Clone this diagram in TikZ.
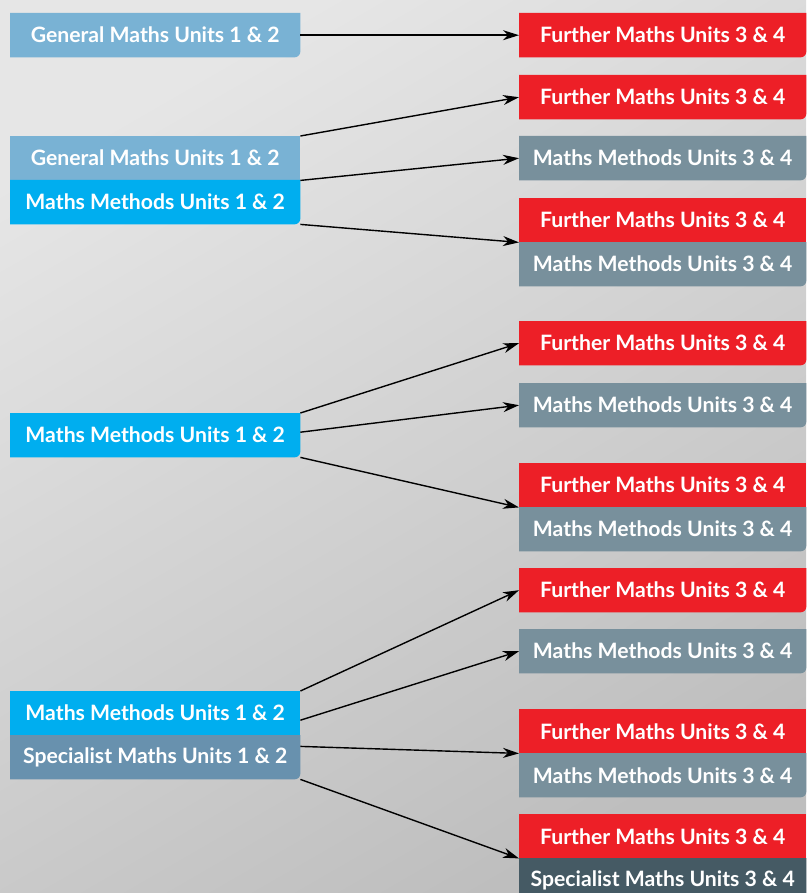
\documentclass[tikz,border=0pt]{standalone}
\usepackage{fontspec}
\setmainfont{Lato}
\usetikzlibrary{arrows.meta,backgrounds}
\definecolor{gmc}{HTML}{79B2D4}
\definecolor{mmc}{HTML}{00AEEF}
\definecolor{smc}{HTML}{6891AE}
\definecolor{frc}{HTML}{ED1F27}
\definecolor{mrc}{HTML}{78909C}
\definecolor{src}{HTML}{455A64}
\definecolor{bgtop}{HTML}{E6E6E6}
\definecolor{bgbot}{HTML}{BEBEBE}
\newcommand{\sqfill}[2]{\fill[#1] (#2.north west) rectangle (#2.south east);}
\newcommand{\rdfill}[2]{\fill[#1] (#2.north west) -- (#2.north east) -- ([yshift=6pt]#2.south east) arc[start angle=0,end angle=-90,radius=6pt] -- (#2.south west) -- cycle;}
\tikzset{
  box/.style={anchor=north west, inner sep=0pt, minimum height=44pt, text=white,
    font=\fontsize{21.2}{24}\selectfont\bfseries},
  lbox/.style={box, minimum width=290pt},
  rbox/.style={box, minimum width=287pt},
  arr/.style={line width=1.4pt, -{Stealth[length=16pt,width=10pt,inset=5pt]}}
}
\begin{document}
\begin{tikzpicture}[x=1pt,y=1pt]
\useasboundingbox (0,0) rectangle (806,-893);
\begin{scope}[on background layer]
\shade[top color=bgtop, bottom color=bgbot, shading angle=30] (0,0) rectangle (806,-893);
\end{scope}
% left boxes
\node[lbox] (L1) at (10,-13) {General Maths Units 1 \& 2};
\node[lbox] (L2a) at (10,-136) {General Maths Units 1 \& 2};
\node[lbox] (L2b) at (10,-180) {Maths Methods Units 1 \& 2};
\node[lbox] (L3) at (10,-413) {Maths Methods Units 1 \& 2};
\node[lbox] (L4a) at (10,-691) {Maths Methods Units 1 \& 2};
\node[lbox] (L4b) at (10,-735) {Specialist Maths Units 1 \& 2};
% right boxes
\node[rbox] (R1) at (519,-13) {Further Maths Units 3 \& 4};
\node[rbox] (R2) at (519,-75) {Further Maths Units 3 \& 4};
\node[rbox] (R3) at (519,-136) {Maths Methods Units 3 \& 4};
\node[rbox] (R4a) at (519,-198) {Further Maths Units 3 \& 4};
\node[rbox] (R4b) at (519,-242) {Maths Methods Units 3 \& 4};
\node[rbox] (R5) at (519,-321) {Further Maths Units 3 \& 4};
\node[rbox] (R6) at (519,-383) {Maths Methods Units 3 \& 4};
\node[rbox] (R7a) at (519,-463) {Further Maths Units 3 \& 4};
\node[rbox] (R7b) at (519,-507) {Maths Methods Units 3 \& 4};
\node[rbox] (R8) at (519,-568) {Further Maths Units 3 \& 4};
\node[rbox] (R9) at (519,-629) {Maths Methods Units 3 \& 4};
\node[rbox] (R10a) at (519,-709) {Further Maths Units 3 \& 4};
\node[rbox] (R10b) at (519,-753) {Maths Methods Units 3 \& 4};
\node[rbox] (R11a) at (519,-814) {Further Maths Units 3 \& 4};
\node[rbox] (R11b) at (519,-858) {Specialist Maths Units 3 \& 4};
\begin{scope}[on background layer]
\rdfill{gmc}{L1}
\sqfill{gmc}{L2a}
\rdfill{mmc}{L2b}
\rdfill{mmc}{L3}
\sqfill{mmc}{L4a}
\rdfill{smc}{L4b}
\rdfill{frc}{R1}
\rdfill{frc}{R2}
\rdfill{mrc}{R3}
\sqfill{frc}{R4a}
\rdfill{mrc}{R4b}
\rdfill{frc}{R5}
\rdfill{mrc}{R6}
\sqfill{frc}{R7a}
\rdfill{mrc}{R7b}
\rdfill{frc}{R8}
\rdfill{mrc}{R9}
\sqfill{frc}{R10a}
\rdfill{mrc}{R10b}
\sqfill{frc}{R11a}
\rdfill{src}{R11b}
\end{scope}
% connectors
\draw[arr] (L1.east) -- (R1.west);
\draw[arr] (L2a.north east) -- (R2.west);
\draw[arr] (L2a.south east) -- (R3.west);
\draw[arr] (L2b.south east) -- (R4a.south west);
\draw[arr] (L3.north east) -- (R5.west);
\draw[arr] ([yshift=3pt]L3.east) -- (R6.west);
\draw[arr] (L3.south east) -- (R7a.south west);
\draw[arr] (L4a.north east) -- (R8.west);
\draw[arr] ([yshift=-7pt]L4a.east) -- (R9.west);
\draw[arr] ([yshift=-11pt]L4a.south east) -- (R10a.south west);
\draw[arr] (L4b.south east) -- (R11a.south west);
\end{tikzpicture}
\end{document}
